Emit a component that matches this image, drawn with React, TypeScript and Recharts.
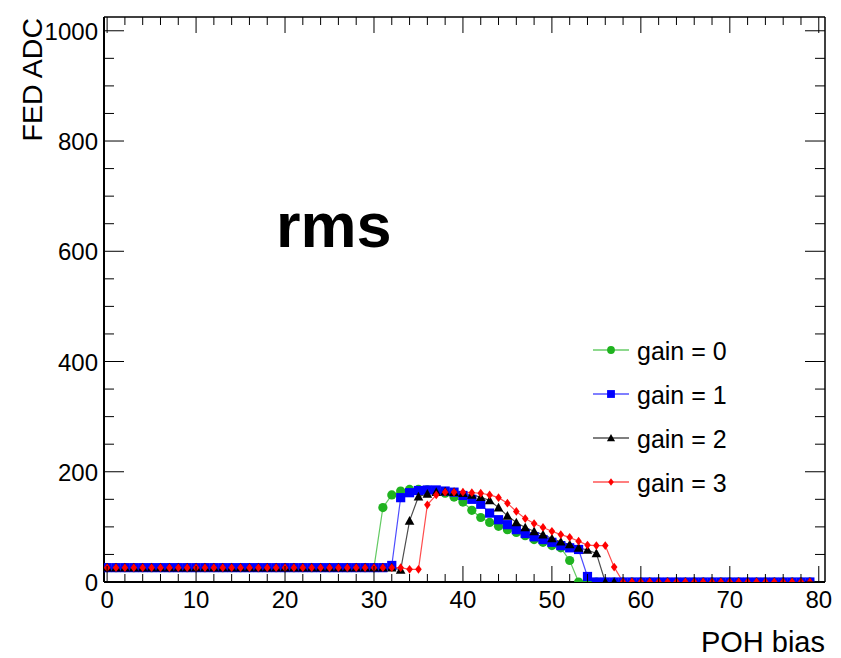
import React from 'react';
import { LineChart, Line, XAxis, YAxis, Customized } from 'recharts';

const FONT = '"Liberation Sans", Arial, Helvetica, sans-serif';

const pohBias = [
  0, 1, 2, 3, 4, 5, 6, 7, 8, 9, 10, 11, 12, 13, 14, 15, 16, 17, 18, 19,
  20, 21, 22, 23, 24, 25, 26, 27, 28, 29, 30, 31, 32, 33, 34, 35, 36, 37, 38, 39,
  40, 41, 42, 43, 44, 45, 46, 47, 48, 49, 50, 51, 52, 53, 54, 55, 56, 57, 58, 59,
  60, 61, 62, 63, 64, 65, 66, 67, 68, 69, 70, 71, 72, 73, 74, 75, 76, 77, 78, 79,
];

const gain0 = [
  26, 26, 26, 26, 26, 26, 26, 26, 26, 26, 26, 26, 26, 26, 26, 26, 26, 26, 26, 26,
  26, 26, 26, 26, 26, 26, 26, 26, 26, 26, 26, 135, 158, 165, 168, 168, 167, 165, 161, 154,
  145, 130, 117, 108, 101, 95, 90, 84, 77, 72, 66, 62, 39, 0, 0, 0, 0, 0, 0, 0,
  0, 0, 0, 0, 0, 0, 0, 0, 0, 0, 0, 0, 0, 0, 0, 0, 0, 0, 0, 0,
];

const gain1 = [
  26, 26, 26, 26, 26, 26, 26, 26, 26, 26, 26, 26, 26, 26, 26, 26, 26, 26, 26, 26,
  26, 26, 26, 26, 26, 26, 26, 26, 26, 26, 26, 26, 30, 153, 162, 166, 167, 167, 165, 163,
  157, 150, 141, 125, 113, 104, 95, 88, 82, 77, 72, 66, 62, 59, 10, 0, 0, 0, 0, 0,
  0, 0, 0, 0, 0, 0, 0, 0, 0, 0, 0, 0, 0, 0, 0, 0, 0, 0, 0, 0,
];

const gain2 = [
  26, 26, 26, 26, 26, 26, 26, 26, 26, 26, 26, 26, 26, 26, 26, 26, 26, 26, 26, 26,
  26, 26, 26, 26, 26, 26, 26, 26, 26, 26, 26, 26, 26, 22, 111, 155, 160, 163, 164, 163,
  161, 158, 154, 148, 135, 120, 108, 99, 92, 86, 79, 73, 68, 62, 58, 52, 0, 0, 0, 0,
  0, 0, 0, 0, 0, 0, 0, 0, 0, 0, 0, 0, 0, 0, 0, 0, 0, 0, 0, 0,
];

const gain3 = [
  26, 26, 26, 26, 26, 26, 26, 26, 26, 26, 26, 26, 26, 26, 26, 26, 26, 26, 26, 26,
  26, 26, 26, 26, 26, 26, 26, 26, 26, 26, 26, 26, 26, 26, 23, 23, 140, 158, 163, 163,
  163, 162, 161, 158, 153, 143, 128, 115, 106, 99, 92, 86, 81, 74, 67, 66, 66, 27, 0, 0,
  0, 0, 0, 0, 0, 0, 0, 0, 0, 0, 0, 0, 0, 0, 0, 0, 0, 0, 0, 0,
];

const seriesKeys = ['g0', 'g1', 'g2', 'g3'];
const seriesNames = ['gain = 0', 'gain = 1', 'gain = 2', 'gain = 3'];
const seriesColors = ['#1fb31f', '#0000ff', '#000000', '#ff0000'];
const seriesMarkers = ['circle', 'square', 'triangle', 'diamond'];

const xTicks = [0, 2, 4, 6, 8, 10, 12, 14, 16, 18, 20, 22, 24, 26, 28, 30, 32, 34, 36, 38, 40,
  42, 44, 46, 48, 50, 52, 54, 56, 58, 60, 62, 64, 66, 68, 70, 72, 74, 76, 78, 80];
const xLabelTicks = [0, 10, 20, 30, 40, 50, 60, 70, 80];
const yTicks = [0, 50, 100, 150, 200, 250, 300, 350, 400, 450, 500, 550, 600, 650, 700,
  750, 800, 850, 900, 950, 1000];
const yLabelTicks = [0, 200, 400, 600, 800, 1000];

const xTitle = 'POH bias';
const yTitle = 'FED ADC';
const plotTitle = 'rms';

const data = pohBias.map((x, i) => ({
  x,
  g0: gain0[i],
  g1: gain1[i],
  g2: gain2[i],
  g3: gain3[i],
}));

const X_DOMAIN: [number, number] = [-0.35, 80.7];
const Y_DOMAIN: [number, number] = [0, 1025];

function Marker({ kind, cx, cy, color, scale = 1 }: any) {
  if (cx == null || cy == null) return null;
  if (kind === 'circle') {
    return <circle cx={cx} cy={cy} r={4.6 * scale} fill={color} />;
  }
  if (kind === 'square') {
    const s = 4.6 * scale;
    return <rect x={cx - s} y={cy - s} width={2 * s} height={2 * s} fill={color} />;
  }
  if (kind === 'triangle') {
    const s = 4.8 * scale;
    return (
      <polygon
        points={`${cx},${cy - s} ${cx + s},${cy + s * 0.8} ${cx - s},${cy + s * 0.8}`}
        fill={color}
      />
    );
  }
  const w = 3.3 * scale;
  const h = 4.4 * scale;
  return (
    <polygon
      points={`${cx},${cy - h} ${cx + w},${cy} ${cx},${cy + h} ${cx - w},${cy}`}
      fill={color}
    />
  );
}

const BottomTick = (p: any) => {
  const v = p.payload.value;
  const major = xLabelTicks.includes(v);
  return (
    <g>
      <line x1={p.x} x2={p.x} y1={p.y} y2={p.y - (major ? 16 : 8)} stroke="#000" strokeWidth={1} />
      {major && (
        <text x={p.x} y={p.y + 26} textAnchor="middle" fontSize={24} fontFamily={FONT} fill="#000">
          {v}
        </text>
      )}
    </g>
  );
};

const TopTick = (p: any) => {
  const v = p.payload.value;
  const major = xLabelTicks.includes(v);
  return (
    <line x1={p.x} x2={p.x} y1={p.y} y2={p.y + (major ? 16 : 8)} stroke="#000" strokeWidth={1} />
  );
};

const LeftTick = (p: any) => {
  const v = p.payload.value;
  const major = yLabelTicks.includes(v);
  return (
    <g>
      <line x1={p.x} x2={p.x + (major ? 20 : 10)} y1={p.y} y2={p.y} stroke="#000" strokeWidth={1} />
      {major && (
        <text x={p.x - 6} y={p.y + 9} textAnchor="end" fontSize={24} fontFamily={FONT} fill="#000">
          {v}
        </text>
      )}
    </g>
  );
};

const RightTick = (p: any) => {
  const v = p.payload.value;
  const major = yLabelTicks.includes(v);
  return (
    <line x1={p.x} x2={p.x - (major ? 20 : 10)} y1={p.y} y2={p.y} stroke="#000" strokeWidth={1} />
  );
};

const Decorations = () => {
  const legendX = 593;
  const legendY = [350, 394, 438, 482];
  return (
    <g>
      <text x={276} y={247} fontSize={63} fontWeight="bold" fontFamily={FONT} fill="#000">
        {plotTitle}
      </text>
      <text x={825} y={652} textAnchor="end" fontSize={29} fontFamily={FONT} fill="#000">
        {xTitle}
      </text>
      <text
        transform={`translate(42, 18) rotate(-90)`}
        textAnchor="end"
        fontSize={28.5}
        fontFamily={FONT}
        fill="#000"
      >
        {yTitle}
      </text>
      {seriesNames.map((name, i) => (
        <g key={name}>
          <line
            x1={legendX}
            x2={legendX + 36}
            y1={legendY[i]}
            y2={legendY[i]}
            stroke={seriesColors[i]}
            strokeWidth={1.2}
          />
          <Marker kind={seriesMarkers[i]} cx={legendX + 18} cy={legendY[i]} color={seriesColors[i]} scale={0.85} />
          <text x={legendX + 44} y={legendY[i] + 10} fontSize={25} fontFamily={FONT} fill="#000">
            {name}
          </text>
        </g>
      ))}
    </g>
  );
};

export default function App() {
  return (
    <div style={{ position: 'absolute', left: 0, top: 0, background: '#fff' }}>
      <LineChart
        width={841}
        height={658}
        data={data}
        margin={{ top: 12, right: 11, bottom: 71, left: 99 }}
      >
        <XAxis
          dataKey="x"
          type="number"
          domain={X_DOMAIN}
          allowDataOverflow
          ticks={xTicks}
          interval={0}
          height={5}
          tickSize={0}
          tickMargin={0}
          tickLine={false}
          tick={BottomTick}
          axisLine={{ stroke: '#000', strokeWidth: 2 }}
        />
        <XAxis
          xAxisId="top"
          orientation="top"
          dataKey="x"
          type="number"
          domain={X_DOMAIN}
          allowDataOverflow
          ticks={xTicks}
          interval={0}
          height={5}
          tickSize={0}
          tickMargin={0}
          tickLine={false}
          tick={TopTick}
          axisLine={{ stroke: '#000', strokeWidth: 1.5 }}
        />
        <YAxis
          type="number"
          domain={Y_DOMAIN}
          allowDataOverflow
          ticks={yTicks}
          interval={0}
          width={5}
          tickSize={0}
          tickMargin={0}
          tickLine={false}
          tick={LeftTick}
          axisLine={{ stroke: '#000', strokeWidth: 2 }}
        />
        <YAxis
          yAxisId="right"
          orientation="right"
          type="number"
          domain={Y_DOMAIN}
          allowDataOverflow
          ticks={yTicks}
          interval={0}
          width={5}
          tickSize={0}
          tickMargin={0}
          tickLine={false}
          tick={RightTick}
          axisLine={{ stroke: '#000', strokeWidth: 1.5 }}
        />
        {seriesKeys.map((k, i) => (
          <Line
            key={k}
            dataKey={k}
            name={seriesNames[i]}
            type="linear"
            stroke={seriesColors[i]}
            strokeOpacity={0.7}
            strokeWidth={1.2}
            isAnimationActive={false}
            activeDot={false}
            dot={(p: any) => (
              <Marker
                key={`${k}-${p.index}`}
                kind={seriesMarkers[i]}
                cx={p.cx}
                cy={p.cy}
                color={seriesColors[i]}
              />
            )}
          />
        ))}
        <Customized component={Decorations} />
      </LineChart>
    </div>
  );
}
